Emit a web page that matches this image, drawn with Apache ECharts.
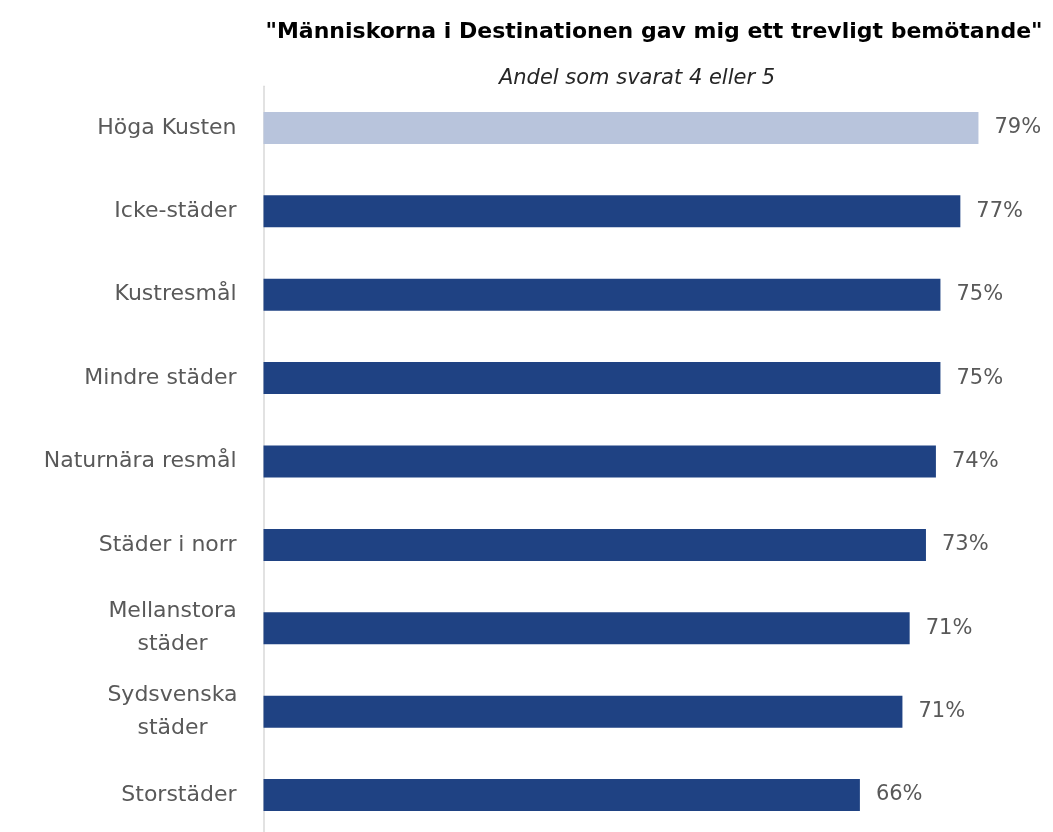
<!DOCTYPE html>
<html>
<head>
<meta charset="utf-8">
<script src="https://cdn.jsdelivr.net/npm/echarts@6/dist/echarts.min.js"></script>
<style>
html,body{margin:0;padding:0;background:#fff;overflow:hidden;}
#chart{width:1053px;height:842px;}
</style>
</head>
<body>
<div id="chart"></div>
<script>
var titleText = '"Människorna i Destinationen gav mig ett trevligt bemötande"';
var subtitleText = 'Andel som svarat 4 eller 5';
var categories = ['Höga Kusten', 'Icke-städer', 'Kustresmål', 'Mindre städer', 'Naturnära resmål', 'Städer i norr', 'Mellanstora\nstäder', 'Sydsvenska\nstäder', 'Storstäder'];
var values = [79.0, 77.0, 74.8, 74.8, 74.3, 73.2, 71.4, 70.6, 65.9];
var highlightIndex = 0;

var chart = echarts.init(document.getElementById('chart'), null, {renderer: 'canvas'});
var fontFamily = 'DejaVu Sans';
var option = {
  backgroundColor: '#ffffff',
  animation: false,
  title: [
    {text: titleText, left: 649, top: 16, textAlign: 'center',
     textStyle: {fontFamily: fontFamily, fontWeight: 'bold', fontSize: 22, color: '#000000'}},
    {text: subtitleText, left: 632, top: 63, textAlign: 'center',
     textStyle: {fontFamily: fontFamily, fontStyle: 'italic', fontWeight: 'normal', fontSize: 21, color: '#262626'}}
  ],
  grid: {left: 263.5, top: 86.3, right: 65.5, height: 750.4, containLabel: false},
  xAxis: {
    type: 'value', min: 0, max: 80,
    show: false
  },
  yAxis: {
    type: 'category', data: categories, inverse: true,
    axisLine: {show: true, lineStyle: {color: '#d9d9d9', width: 1.5}},
    axisTick: {show: false},
    splitLine: {show: false},
    axisLabel: {
      margin: 27, fontFamily: fontFamily, fontSize: 22, color: '#595959',
      lineHeight: 33,
      formatter: function (v) {
        var lines = v.split('\n');
        if (lines.length === 1) { return '{r|' + v + '}'; }
        return lines.map(function (l) { return '{c|' + l + '}'; }).join('\n');
      },
      rich: {
        r: {fontFamily: fontFamily, fontSize: 22, color: '#595959', lineHeight: 33},
        c: {fontFamily: fontFamily, fontSize: 22, color: '#595959', lineHeight: 33, width: 128, align: 'center'}
      }
    }
  },
  series: [{
    type: 'bar',
    barWidth: 32,
    data: values.map(function (v, i) {
      return {value: v, itemStyle: {color: i === highlightIndex ? '#b8c4dc' : '#1f4283'}};
    }),
    label: {
      show: true, position: 'right', distance: 16,
      fontFamily: fontFamily, fontSize: 21, color: '#595959',
      formatter: function (p) { return Math.round(p.value) + '%'; }
    }
  }]
};
chart.setOption(option);
</script>
</body>
</html>
